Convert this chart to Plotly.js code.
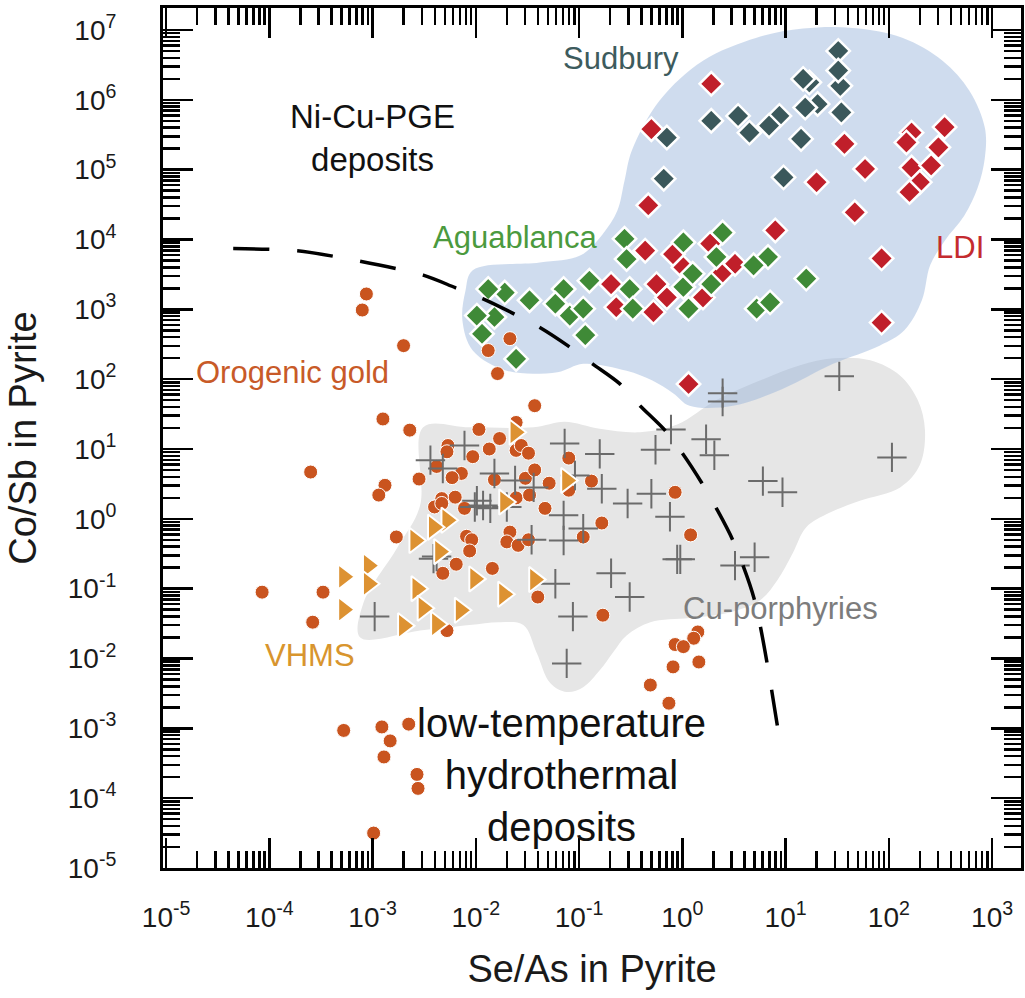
<!DOCTYPE html>
<html><head><meta charset="utf-8">
<script src="https://cdn.plot.ly/plotly-3.0.1.min.js"></script>
<style>html,body{margin:0;padding:0;background:#fff}#chart{width:1025px;height:998px}</style>
</head><body><div id="chart"></div>
<script>
// ---- data (stored as log10 exponents) ----
const xTickExp = [-5,-4,-3,-2,-1,0,1,2,3];
const xTickLabels = ['10<sup>-5</sup>','10<sup>-4</sup>','10<sup>-3</sup>','10<sup>-2</sup>','10<sup>-1</sup>','10<sup>0</sup>','10<sup>1</sup>','10<sup>2</sup>','10<sup>3</sup>'];
const yTickExp = [-5,-4,-3,-2,-1,0,1,2,3,4,5,6,7];
const yTickLabels = ['10<sup>-5</sup>','10<sup>-4</sup>','10<sup>-3</sup>','10<sup>-2</sup>','10<sup>-1</sup>','10<sup>0</sup>','10<sup>1</sup>','10<sup>2</sup>','10<sup>3</sup>','10<sup>4</sup>','10<sup>5</sup>','10<sup>6</sup>','10<sup>7</sup>'];

// Sudbury (Se/As, Co/Sb) as log10
const sudburyLogX = [1.51,1.53,1.51,1.23,1.17,1.31,1.54,1.19,0.28,0.54,0.65,0.94,0.84,1.15,-0.15,0.98,-0.18];
const sudburyLogY = [6.70,6.20,6.42,6.25,6.30,5.94,5.82,5.89,5.70,5.77,5.53,5.77,5.63,5.44,5.46,4.89,4.87];

// LDI
const ldiLogX = [0.28,-0.30,1.57,1.77,1.30,-0.33,1.67,2.22,2.54,2.48,2.17,2.22,2.41,2.30,2.20,0.90,1.93,1.93,0.06,-0.36,-0.69,-0.25,-0.09,0.27,0.51,-0.64,-0.28,-0.15,0.01,0.20,0.38];
const ldiLogY = [6.23,5.58,5.37,5.01,4.82,4.49,4.39,5.53,5.61,5.32,5.39,5.03,5.06,4.82,4.68,4.13,3.73,2.81,1.93,3.84,3.36,3.36,3.79,3.94,3.65,3.03,2.96,3.17,3.60,3.17,3.51];

// Aguablanca
const aguaLogX = [-0.56,0.39,0.01,-0.54,0.33,0.83,0.69,-0.90,-1.15,-1.48,-1.72,-1.88,-0.51,0.01,0.28,1.20,-1.23,-1.09,-0.96,-0.48,0.06,-1.82,-1.99,-1.94,-0.94,-1.61,0.72,0.85,0.10];
const aguaLogY = [4.01,4.10,3.96,3.72,3.75,3.75,3.63,3.41,3.29,3.13,3.24,3.29,3.29,3.32,3.36,3.44,3.08,2.91,3.01,3.01,3.01,2.89,2.91,2.65,2.63,2.29,3.01,3.10,3.51];

// Orogenic gold + low-temperature hydrothermal pyrite
const goldLogX = [-3.06,-3.10,-2.70,-1.67,-1.88,-1.79,-1.43,-2.90,-2.64,-3.60,-2.88,-2.94,-4.07,-3.48,-3.58,-1.40,-2.28,-1.97,-1.61,-1.77,-2.27,-2.28,-2.03,-1.87,-1.61,-1.56,-1.49,-2.38,-2.14,-2.23,-2.55,-1.82,-1.52,-1.43,-1.29,-1.10,-0.88,-2.33,-2.20,-2.40,-2.11,-1.61,-1.48,-1.33,-1.10,-0.78,-1.67,-2.09,-2.04,-1.70,-1.59,-1.49,-0.96,-2.06,-2.77,-2.19,-2.32,-1.84,-0.77,-2.33,-3.28,-2.91,-2.65,-2.83,-2.89,-2.57,-2.56,-2.99,0.15,0.11,-0.07,0.01,-0.09,0.16,-0.31,-0.13,-0.07,0.08];
const goldLogY = [3.22,2.99,2.48,2.58,2.41,2.08,1.62,1.43,1.27,0.67,0.48,0.34,-1.05,-1.05,-1.48,-1.12,-1.60,1.28,1.38,1.15,1.05,0.96,0.89,1.00,0.98,1.05,0.94,0.75,0.65,0.59,0.57,0.56,0.58,0.70,0.51,0.87,0.54,0.29,0.31,0.17,0.15,0.30,0.34,0.15,0.41,-0.06,-0.19,-0.25,-0.30,-0.33,-0.38,-0.30,-0.26,-0.46,-0.26,-0.65,-0.78,-0.71,-1.38,0.22,-3.03,-2.98,-2.94,-3.18,-3.41,-3.66,-3.86,-4.50,-1.62,-1.71,-1.80,-1.83,-2.12,-2.05,-2.38,-2.64,0.38,-0.23];

// VHMS
const vhmsLogX = [-1.62,-1.12,-1.72,-2.28,-2.41,-2.59,-2.35,-2.01,-1.73,-1.43,-2.57,-3.04,-3.04,-3.28,-3.28,-2.51,-2.15,-2.70,-2.38];
const vhmsLogY = [1.24,0.55,0.24,-0.02,-0.12,-0.31,-0.47,-0.86,-1.08,-0.87,-1.00,-0.67,-0.93,-0.83,-1.30,-1.28,-1.31,-1.53,-1.51];

// Cu-porphyries
const porphLogX = [0.39,0.39,1.52,-0.11,-0.26,0.23,0.31,2.03,0.78,0.97,-0.80,-0.78,-0.53,-0.30,-0.12,-0.05,-0.02,0.51,0.70,-0.69,-0.51,-1.14,-2.11,-2.44,-2.32,-1.82,-1.62,-1.44,-1.04,-1.99,-1.93,-1.86,-2.01,-1.70,-1.15,-0.96,-1.46,-1.15,-2.41,-2.38,-1.23,-1.06,-2.98,-1.12];
const porphLogY = [1.80,1.68,2.04,1.28,0.99,1.14,0.91,0.88,0.54,0.38,0.93,0.43,0.22,0.36,0.03,-0.58,-0.58,-0.67,-0.55,-0.78,-1.12,1.08,1.05,0.84,0.72,0.65,0.55,0.45,0.62,0.26,0.19,0.15,0.17,0.17,0.05,-0.14,-0.30,-0.31,-0.57,-0.54,-0.93,-1.40,-1.40,-2.07];

// field outlines
const niFieldLogX = [1.65,2.13,2.52,2.78,2.93,2.93,2.86,2.73,2.54,2.40,2.32,2.15,1.91,1.46,0.97,0.49,0.07,-0.09,-0.29,-0.54,-0.96,-1.21,-1.70,-2.03,-2.13,-2.10,-2.03,-1.38,-0.99,-0.77,-0.63,-0.56,-0.49,-0.22,0.20,0.72,1.17,1.65];
const niFieldLogY = [7.03,6.89,6.56,6.13,5.60,5.17,4.74,4.34,3.98,3.63,3.13,2.70,2.48,2.22,1.86,1.62,1.62,1.80,1.98,2.12,2.22,2.10,2.12,2.41,2.84,3.27,3.56,3.67,3.77,4.08,4.41,4.84,5.27,5.99,6.56,6.89,7.02,7.03];
const cuFieldLogX = [-2.51,-2.06,-1.44,-1.14,-0.80,-0.41,-0.05,0.33,0.75,1.14,1.46,1.82,2.11,2.28,2.35,2.30,2.11,1.72,1.43,1.20,1.07,0.92,0.75,0.46,0.07,-0.31,-0.54,-0.67,-0.80,-0.96,-1.12,-1.28,-1.41,-1.54,-1.77,-2.06,-2.54,-3.12,-3.09,-2.76,-2.54,-2.51];
const cuFieldLogY = [1.31,1.31,1.31,1.39,1.29,1.24,1.35,1.70,1.98,2.20,2.30,2.27,2.05,1.70,1.27,0.77,0.45,0.26,0.09,-0.12,-0.49,-0.88,-1.17,-1.34,-1.42,-1.48,-1.67,-1.91,-2.17,-2.41,-2.48,-2.35,-1.92,-1.52,-1.48,-1.52,-1.60,-1.70,-1.21,-0.41,0.19,1.31];

// boundary curve
const divideLogX = [-4.35,-3.73,-3.38,-2.51,-2.20,-1.93,-1.65,-1.38,-1.11,-0.87,-0.61,-0.41,-0.17,0.00,0.19,0.33,0.49,0.70,0.92];
const divideLogY = [3.87,3.84,3.76,3.49,3.31,3.15,2.95,2.74,2.48,2.22,1.94,1.62,1.27,0.94,0.51,0.15,-0.31,-1.17,-2.96];

// ---- build ----
const p10 = a => a.map(v => Math.pow(10, v));
const FONT = 'Liberation Sans, Arial, Helvetica, sans-serif';

const traces = [
  {x:p10(cuFieldLogX), y:p10(cuFieldLogY), mode:'lines', fill:'toself', fillcolor:'#e6e6e6',
   line:{width:0, color:'#e6e6e6', shape:'spline', smoothing:1}, hoverinfo:'skip'},
  {x:p10(niFieldLogX), y:p10(niFieldLogY), mode:'lines', fill:'toself', fillcolor:'rgba(150,178,218,0.46)',
   line:{width:0, color:'rgba(0,0,0,0)', shape:'spline', smoothing:1}, hoverinfo:'skip'},
  {x:p10(goldLogX), y:p10(goldLogY), mode:'markers', name:'Orogenic gold',
   marker:{symbol:'circle', size:14, color:'#c9541f', line:{color:'#ffffff', width:1}}},
  {x:p10(porphLogX), y:p10(porphLogY), mode:'markers', name:'Cu-porphyries',
   marker:{symbol:'cross-thin-open', size:21, color:'#6b6b6b', line:{color:'#6b6b6b', width:2}}},
  {x:p10(vhmsLogX), y:p10(vhmsLogY), mode:'markers', name:'VHMS',
   marker:{symbol:'triangle-right', size:22, color:'#dd9232', line:{color:'#ffffff', width:2}}},
  {x:p10(ldiLogX), y:p10(ldiLogY), mode:'markers', name:'LDI',
   marker:{symbol:'diamond', size:18, color:'#c01f2a', line:{color:'#ffffff', width:2.5}}},
  {x:p10(aguaLogX), y:p10(aguaLogY), mode:'markers', name:'Aguablanca',
   marker:{symbol:'diamond', size:18, color:'#3f8a37', line:{color:'#ffffff', width:2.5}}},
  {x:p10(sudburyLogX), y:p10(sudburyLogY), mode:'markers', name:'Sudbury',
   marker:{symbol:'diamond', size:18, color:'#3b585b', line:{color:'#ffffff', width:2.5}}},
  {x:p10(divideLogX), y:p10(divideLogY), mode:'lines',
   line:{color:'#000', width:3.5, dash:'36px,28px', shape:'spline', smoothing:0.8}, hoverinfo:'skip'}
];

function axisBase(){
  return {type:'log', ticks:'inside', ticklen:30, tickwidth:2.5, tickcolor:'#000',
    showline:true, linewidth:3, linecolor:'#000', mirror:'ticks', showgrid:false, zeroline:false,
    tickfont:{family:FONT, size:28, color:'#1a1a1a'}, automargin:false,
    minor:{ticks:'inside', ticklen:17, tickwidth:2.5, tickcolor:'#000', dtick:'D1', showgrid:false}};
}
const xaxis = Object.assign(axisBase(), {range:[-5.03,3.28], tickvals:p10(xTickExp), ticktext:xTickLabels,
  ticklabelstandoff:22, title:{text:'Se/As in Pyrite', font:{family:FONT, size:38, color:'#1a1a1a'}, standoff:24}});
const yaxis = Object.assign(axisBase(), {range:[-5,7.315], tickvals:p10(yTickExp), ticktext:yTickLabels,
  ticklabelstandoff:38, title:{text:'Co/Sb in Pyrite', font:{family:FONT, size:38, color:'#1a1a1a'}, standoff:20}});

function ann(text, lx, ly, size, color){
  return {text:text, x:lx, y:ly, xref:'x', yref:'y', showarrow:false, xanchor:'center', yanchor:'middle',
    font:{family:FONT, size:size, color:color}};
}
const layout = {
  width:1025, height:998, margin:{l:163, r:4, t:8, b:130},
  paper_bgcolor:'#fff', plot_bgcolor:'#fff', showlegend:false,
  xaxis:xaxis, yaxis:yaxis,
  annotations:[
    ann('Ni-Cu-PGE<br>deposits', -3.00, 5.46, 33, '#111'),
    ann('Sudbury', -0.59, 6.59, 31, '#3d5b5d'),
    ann('Aguablanca', -1.62, 4.03, 31, '#4b9a3e'),
    ann('LDI', 2.69, 3.88, 31, '#c42b2f'),
    ann('Orogenic gold', -3.78, 2.10, 31, '#c85a28'),
    ann('VHMS', -3.61, -1.95, 31, '#d8952e'),
    ann('Cu-porphyries', 0.95, -1.28, 31, '#7c7c7c'),
    ann('low-temperature<br>hydrothermal<br>deposits', -1.17, -3.67, 40, '#111')
  ]
};
Plotly.newPlot('chart', traces, layout, {displayModeBar:false, staticPlot:true});
</script></body></html>
